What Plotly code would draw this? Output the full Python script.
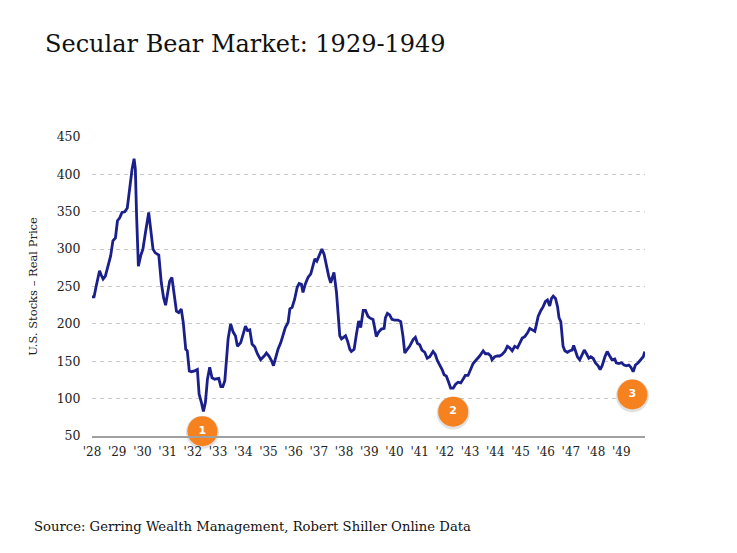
import plotly.graph_objects as go

# ---- data (decimal year, real price) ----
years = [
    1928.00, 1928.08, 1928.17, 1928.30, 1928.37, 1928.44, 1928.53, 1928.63, 1928.74, 1928.83, 1928.93,
    1929.01, 1929.10, 1929.19, 1929.30, 1929.40, 1929.49, 1929.59, 1929.67, 1929.72, 1929.77, 1929.84, 1929.93,
    1930.02, 1930.12, 1930.25, 1930.33, 1930.42, 1930.51, 1930.65, 1930.75, 1930.84, 1930.92,
    1931.02, 1931.08, 1931.17, 1931.25, 1931.35, 1931.44, 1931.54, 1931.62, 1931.72, 1931.78, 1931.86, 1931.94,
    1932.07, 1932.18, 1932.25, 1932.34, 1932.42, 1932.50, 1932.58, 1932.67, 1932.76, 1932.87, 1932.96,
    1933.03, 1933.11, 1933.19, 1933.27, 1933.40, 1933.50, 1933.60, 1933.69, 1933.77, 1933.90, 1933.99,
    1934.09, 1934.17, 1934.26, 1934.35, 1934.46, 1934.56, 1934.69, 1934.83, 1934.92,
    1935.02, 1935.12, 1935.20, 1935.28, 1935.38, 1935.49, 1935.58, 1935.67, 1935.78, 1935.85, 1935.94,
    1936.04, 1936.14, 1936.22, 1936.31, 1936.37, 1936.46, 1936.57, 1936.68, 1936.77, 1936.84, 1936.92,
    1937.00, 1937.07, 1937.12, 1937.21, 1937.30, 1937.39, 1937.47, 1937.56, 1937.60, 1937.70, 1937.76,
    1937.83, 1937.90, 1937.99, 1938.06, 1938.14, 1938.23, 1938.29, 1938.40, 1938.49, 1938.58, 1938.66,
    1938.76, 1938.85, 1938.95,
    1939.02, 1939.15, 1939.22, 1939.28, 1939.37, 1939.48, 1939.59, 1939.64, 1939.72, 1939.81, 1939.90,
    1940.01, 1940.14, 1940.25, 1940.34, 1940.41, 1940.51, 1940.60, 1940.74, 1940.83, 1940.91,
    1941.00, 1941.09, 1941.20, 1941.30, 1941.40, 1941.53, 1941.62, 1941.70, 1941.80, 1941.89, 1941.97,
    1942.06, 1942.15, 1942.23, 1942.33, 1942.42, 1942.52, 1942.63, 1942.72, 1942.81, 1942.92,
    1943.03, 1943.12, 1943.25, 1943.38, 1943.52, 1943.61, 1943.72, 1943.82, 1943.87, 1943.98,
    1944.08, 1944.17, 1944.27, 1944.38, 1944.48, 1944.57, 1944.67, 1944.77, 1944.88, 1944.97,
    1945.07, 1945.17, 1945.28, 1945.37, 1945.46, 1945.57, 1945.63, 1945.70, 1945.81, 1945.90, 1945.99,
    1946.07, 1946.16, 1946.23, 1946.30, 1946.39, 1946.47, 1946.53, 1946.60, 1946.65, 1946.69, 1946.76,
    1946.86, 1946.96, 1947.05, 1947.11, 1947.18, 1947.26, 1947.35, 1947.44, 1947.53, 1947.62, 1947.71,
    1947.79, 1947.88, 1947.97, 1948.08, 1948.16, 1948.24, 1948.35, 1948.44, 1948.54, 1948.63, 1948.74,
    1948.80, 1948.90, 1949.01, 1949.11, 1949.20, 1949.30, 1949.38, 1949.47, 1949.56, 1949.67, 1949.77,
    1949.87, 1949.93,
]
real_price = [
    236, 236, 251, 271, 265, 260, 264, 277, 291, 311, 315,
    338, 342, 349, 350, 355, 380, 407, 421, 407, 344, 277, 291,
    300, 322, 349, 326, 300, 295, 292, 255, 235, 225,
    242, 257, 262, 242, 217, 215, 220, 202, 166, 164, 137, 136,
    137, 139, 106, 95, 83, 95, 126, 142, 128, 126, 126,
    127, 116, 116, 124, 180, 200, 189, 184, 170, 175, 184,
    197, 191, 192, 173, 169, 160, 152, 157, 161,
    157, 151, 144, 155, 166, 175, 186, 195, 202, 220, 222,
    233, 249, 254, 253, 242, 253, 262, 267, 278, 287, 284,
    291, 298, 300, 293, 278, 264, 255, 267, 269, 242, 211,
    184, 180, 182, 184, 177, 166, 163, 166, 186, 204, 195,
    218, 218, 210,
    208, 206, 194, 183, 189, 193, 194, 208, 214, 212, 206,
    205, 205, 203, 183, 161, 166, 170, 179, 182, 174,
    172, 165, 162, 154, 156, 163, 159, 151, 145, 139, 132,
    130, 122, 114, 114, 119, 122, 121, 126, 131, 131,
    139, 147, 152, 157, 164, 160, 160, 157, 152, 156,
    157, 157, 159, 163, 170, 168, 164, 170, 168, 174,
    181, 183, 188, 194, 192, 190, 199, 210, 218, 223, 230,
    232, 224, 234, 237, 234, 223, 208, 203, 181, 170, 164,
    162, 164, 165, 171, 163, 156, 152, 159, 165, 160, 154,
    156, 154, 148, 144, 139, 144, 156, 163, 157, 152, 153,
    148, 147, 148, 145, 144, 145, 142, 136, 145, 148, 152,
    156, 163,
]

year_ticks = list(range(1928, 1950))
year_labels = ["'" + str(y)[2:] for y in year_ticks]
price_ticks = [50, 100, 150, 200, 250, 300, 350, 400, 450]

# numbered callouts: (label, decimal year, price level)
callout_labels = ["1", "2", "3"]
callout_years = [1932.38, 1942.33, 1949.44]
callout_levels = [56.5, 82.5, 105.5]

SERIF = "Georgia, 'DejaVu Serif', serif"
ORANGE = "#F5821F"
NAVY = "#1A1F8C"

# page body adds an 8px offset, so margins are shifted by 8px
ML, MT, MR, MB = 84, 129, 100, 124.5
PLOT_W = 737 - ML - MR
PLOT_H = 553 - MT - MB

fig = go.Figure()
fig.add_trace(go.Scatter(
    x=years, y=real_price, mode="lines",
    line=dict(color=NAVY, width=2.8),
    hoverinfo="skip", showlegend=False,
))
# soft shadow under the callouts
fig.add_trace(go.Scatter(
    x=callout_years, y=[v - 1.6 for v in callout_levels], mode="markers",
    marker=dict(size=33, color="rgba(120,120,120,0.22)", line=dict(width=0)),
    hoverinfo="skip", showlegend=False, cliponaxis=False,
))
fig.add_trace(go.Scatter(
    x=callout_years, y=callout_levels, mode="markers+text",
    marker=dict(size=30, color=ORANGE, line=dict(width=0)),
    text=["<b>" + t + "</b>" for t in callout_labels], textposition="middle center",
    textfont=dict(color="white", size=11, family="'DejaVu Sans', sans-serif"),
    hoverinfo="skip", showlegend=False, cliponaxis=False,
))

fig.update_layout(
    width=737, height=553,
    paper_bgcolor="white", plot_bgcolor="white",
    margin=dict(l=ML, r=MR, t=MT, b=MB),
    title=dict(
        text="Secular Bear Market: 1929-1949",
        x=37 / 737, xanchor="left", y=1 - 36 / 553, yanchor="middle",
        font=dict(family=SERIF, size=24, color="#111111"),
    ),
    xaxis=dict(
        range=[1928, 1949.94], tickmode="array", tickvals=year_ticks, ticktext=year_labels,
        showgrid=False, zeroline=False, showline=True, linecolor="#A0A0A0", linewidth=1.5,
        ticks="outside", ticklen=4, tickcolor="rgba(0,0,0,0)",
        tickfont=dict(family=SERIF, size=12, color="#222222"),
    ),
    yaxis=dict(
        range=[50, 450], tickmode="array", tickvals=price_ticks,
        showgrid=True, gridcolor="#C8C8C8", gridwidth=1, griddash="4px,4px",
        zeroline=False, showline=False,
        ticks="outside", ticklen=8, tickcolor="rgba(0,0,0,0)",
        tickfont=dict(family=SERIF, size=12.5, color="#222222"),
        title=dict(text="U.S. Stocks – Real Price", standoff=16,
                   font=dict(family=SERIF, size=11.5, color="#222222")),
    ),
    annotations=[dict(
        text="Source: Gerring Wealth Management, Robert Shiller Online Data",
        xref="paper", yref="paper", x=(24 - ML) / PLOT_W, y=-(519 - (553 - MB)) / PLOT_H,
        xanchor="left", yanchor="middle", showarrow=False,
        font=dict(family=SERIF, size=13.2, color="#111111"),
    )],
)

fig.write_html("out.html")
